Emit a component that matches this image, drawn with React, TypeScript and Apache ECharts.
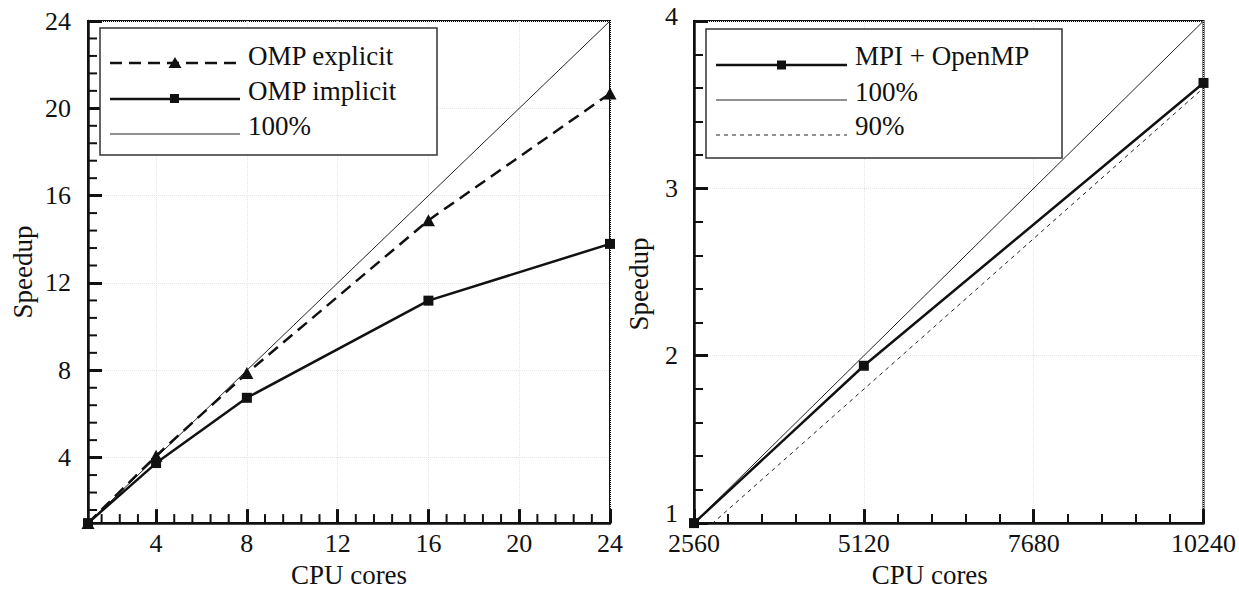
import React, { useEffect, useRef } from 'react';
import * as echarts from 'echarts';

// ---- Left panel data (OpenMP) ----
const ompCores = [1, 4, 8, 16, 24];
const ompExplicit = [1, 4.08, 7.87, 14.87, 20.68];
const ompImplicit = [1, 3.75, 6.74, 11.19, 13.79];
const idealOmpCores = [1, 24];
const idealOmpSpeedup = [1, 24];
const leftMajorTicks = [4, 8, 12, 16, 20, 24];

// ---- Right panel data (MPI + OpenMP) ----
const mpiCores = [2560, 5120, 10240];
const mpiSpeedup = [1, 1.94, 3.63];
const idealMpiCores = [2560, 10240];
const ideal100Speedup = [1, 4];
const ideal90Speedup = [0.9, 3.6];

const FONT = "'Liberation Serif', 'Times New Roman', serif";
const INK = '#111';
const TICK_INK = '#111';
const TICK_FS = 26;
const NAME_FS = 27;

function minorTicks(majors: number[], lo: number, hi: number, step: number, sub: number) {
  const out: number[] = [];
  const d = step / sub;
  for (let v = majors[0] - step; v <= hi + 1e-9; v += d) {
    const r = Math.round(v * 1000) / 1000;
    if (r > lo + 1e-9 && r < hi - 1e-9 && !majors.some((m) => Math.abs(m - r) < 1e-6)) out.push(r);
  }
  return out;
}

const zip = (xs: number[], ys: number[]) => xs.map((x, i) => [x, ys[i]]);

export default function App() {
  const ref = useRef<HTMLDivElement>(null);
  useEffect(() => {
    if (!ref.current) return;
    const chart = echarts.init(ref.current, undefined, { renderer: 'svg' });
    const labelStyle = { fontFamily: FONT, fontSize: TICK_FS, color: INK };
    const nameStyle = { fontFamily: FONT, fontSize: NAME_FS, color: INK };
    const axisLine = { show: true, lineStyle: { color: INK, width: 2.5 } };
    const split = { show: true, lineStyle: { color: '#e4e4e4', width: 1, type: 'dotted' as const } };
    const majorTick = () => ({ show: true, inside: true, length: 14, lineStyle: { color: TICK_INK, width: 3 } });
    const minorTick = () => ({ show: true, splitNumber: 5, length: 9, lineStyle: { color: TICK_INK, width: 2 } });
    const leftMinor = minorTicks(leftMajorTicks, 1, 24, 4, 5);

    const leftAxisMain = (isX: boolean) => ({
      type: 'value',
      gridIndex: 0,
      position: isX ? 'bottom' : 'left',
      min: 1,
      max: 24,
      name: isX ? 'CPU cores' : 'Speedup',
      nameLocation: 'middle',
      nameGap: isX ? 34 : 52,
      nameTextStyle: nameStyle,
      axisLine,
      axisTick: { ...majorTick(), customValues: leftMajorTicks },
      axisLabel: { ...labelStyle, margin: isX ? 7 : 17, customValues: leftMajorTicks },
      splitLine: split,
    });

    // minor ticks of the left panel, placed through the panel's own scales
    const minorTickSeries = (isX: boolean) => ({
      type: 'custom',
      xAxisIndex: 0,
      yAxisIndex: 0,
      silent: true,
      clip: false,
      z: 4,
      data: leftMinor.map((v) => (isX ? [v, 1] : [1, v])),
      encode: { x: 0, y: 1 },
      renderItem: (_params: any, api: any) => {
        const p = api.coord([api.value(0), api.value(1)]);
        const shape = isX
          ? { x1: p[0], y1: p[1], x2: p[0], y2: p[1] - 9 }
          : { x1: p[0], y1: p[1], x2: p[0] + 9, y2: p[1] };
        return { type: 'line', shape, style: { stroke: TICK_INK, lineWidth: 2 } };
      },
    });

    const legendText = (text: string, x: number, y: number) => ({
      type: 'text',
      style: { text, x, y, fontFamily: FONT, fontSize: NAME_FS, fill: INK, verticalAlign: 'middle' },
      z: 12,
    });

    const option: any = {
      animation: false,
      backgroundColor: '#fff',
      textStyle: { fontFamily: FONT },
      grid: [
        { left: 88, top: 21, width: 522, height: 509, show: true, borderColor: INK, borderWidth: 2, containLabel: false },
        { left: 694, top: 21, width: 513, height: 509, show: true, borderColor: INK, borderWidth: 2, containLabel: false },
      ],
      xAxis: [
        leftAxisMain(true),
        {
          type: 'value',
          gridIndex: 1,
          position: 'bottom',
          min: 2560,
          max: 10240,
          interval: 2560,
          name: 'CPU cores',
          nameLocation: 'middle',
          nameGap: 34,
          nameTextStyle: { ...nameStyle, padding: [0, 38, 0, 0] },
          axisLine,
          axisTick: majorTick(),
          minorTick: minorTick(),
          axisLabel: { ...labelStyle, margin: 7, formatter: (v: number) => String(v) },
          splitLine: split,
        },
      ],
      yAxis: [
        leftAxisMain(false),
        {
          type: 'value',
          gridIndex: 1,
          position: 'left',
          min: 1,
          max: 4,
          interval: 1,
          name: 'Speedup',
          nameLocation: 'middle',
          nameGap: 42,
          nameTextStyle: { ...nameStyle, padding: [0, 24, 0, 0] },
          axisLine,
          axisTick: majorTick(),
          minorTick: minorTick(),
          axisLabel: {
            ...labelStyle,
            margin: 16,
            formatter: (v: number) => (v === 1 ? '{lo|1}' : v === 4 ? '{hi|4}' : String(v)),
            rich: {
              lo: { ...labelStyle, padding: [0, 0, 20, 0] },
              hi: { ...labelStyle, padding: [0, 0, 10, 0] },
            },
          },
          splitLine: split,
        },
      ],
      series: [
        minorTickSeries(true),
        minorTickSeries(false),
        {
          name: '100%',
          type: 'line',
          xAxisIndex: 0,
          yAxisIndex: 0,
          data: zip(idealOmpCores, idealOmpSpeedup),
          symbol: 'none',
          lineStyle: { color: '#222', width: 1 },
          silent: true,
        },
        {
          name: 'OMP explicit',
          type: 'line',
          xAxisIndex: 0,
          yAxisIndex: 0,
          data: zip(ompCores, ompExplicit),
          symbol: 'triangle',
          symbolSize: [13, 12],
          itemStyle: { color: INK },
          lineStyle: { color: INK, width: 2.5, type: [12, 7] },
          z: 3,
        },
        {
          name: 'OMP implicit',
          type: 'line',
          xAxisIndex: 0,
          yAxisIndex: 0,
          data: zip(ompCores, ompImplicit),
          symbol: 'rect',
          symbolSize: 10,
          itemStyle: { color: INK },
          lineStyle: { color: INK, width: 2.5 },
          z: 3,
        },
        {
          name: '100% ',
          type: 'line',
          xAxisIndex: 1,
          yAxisIndex: 1,
          data: zip(idealMpiCores, ideal100Speedup),
          symbol: 'none',
          lineStyle: { color: '#222', width: 1 },
        },
        {
          name: '90%',
          type: 'line',
          xAxisIndex: 1,
          yAxisIndex: 1,
          data: zip(idealMpiCores, ideal90Speedup),
          symbol: 'none',
          clip: true,
          lineStyle: { color: '#222', width: 1, type: [4, 4] },
        },
        {
          name: 'MPI + OpenMP',
          type: 'line',
          xAxisIndex: 1,
          yAxisIndex: 1,
          data: zip(mpiCores, mpiSpeedup),
          symbol: 'rect',
          symbolSize: 10,
          itemStyle: { color: INK },
          lineStyle: { color: INK, width: 2.5 },
          z: 3,
        },
      ],
      graphic: [
        // left legend
        { type: 'rect', shape: { x: 100, y: 28, width: 337, height: 127 }, style: { fill: '#fff', stroke: '#333', lineWidth: 1.5 }, z: 10 },
        { type: 'line', shape: { x1: 110, y1: 63, x2: 240, y2: 63 }, style: { stroke: INK, lineWidth: 2.5, lineDash: [12, 7] }, z: 11 },
        { type: 'polygon', shape: { points: [[175, 57], [168.5, 68], [181.5, 68]] }, style: { fill: INK }, z: 12 },
        legendText('OMP explicit', 248, 56),
        { type: 'line', shape: { x1: 110, y1: 99, x2: 240, y2: 99 }, style: { stroke: INK, lineWidth: 2.5 }, z: 11 },
        { type: 'rect', shape: { x: 170, y: 94, width: 9, height: 9 }, style: { fill: INK }, z: 12 },
        legendText('OMP implicit', 248, 91),
        { type: 'line', shape: { x1: 110, y1: 134, x2: 240, y2: 134 }, style: { stroke: '#222', lineWidth: 1 }, z: 11 },
        legendText('100%', 248, 126),
        // right legend
        { type: 'rect', shape: { x: 706, y: 29, width: 356, height: 129 }, style: { fill: '#fff', stroke: '#333', lineWidth: 1.5 }, z: 10 },
        { type: 'line', shape: { x1: 716, y1: 65, x2: 847, y2: 65 }, style: { stroke: INK, lineWidth: 2.5 }, z: 11 },
        { type: 'rect', shape: { x: 777, y: 60.5, width: 9, height: 9 }, style: { fill: INK }, z: 12 },
        legendText('MPI + OpenMP', 855, 56),
        { type: 'line', shape: { x1: 716, y1: 100, x2: 847, y2: 100 }, style: { stroke: '#222', lineWidth: 1 }, z: 11 },
        legendText('100%', 855, 92),
        { type: 'line', shape: { x1: 716, y1: 135, x2: 847, y2: 135 }, style: { stroke: '#222', lineWidth: 1, lineDash: [4, 4] }, z: 11 },
        legendText('90%', 855, 126),
      ],
    };
    chart.setOption(option);
    return () => chart.dispose();
  }, []);
  return <div ref={ref} style={{ position: 'fixed', left: 0, top: 0, width: 1239, height: 593 }} />;
}
